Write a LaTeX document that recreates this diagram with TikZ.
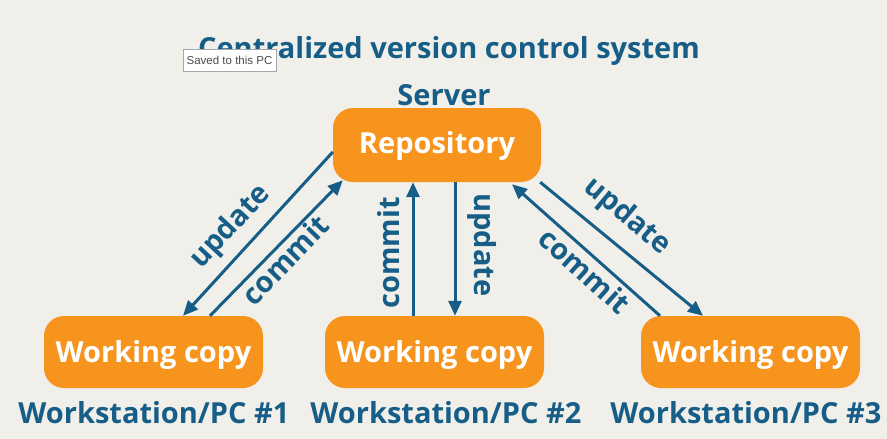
\documentclass[tikz,border=0pt]{standalone}
\usepackage{fontspec}
\setmainfont{Open Sans}
\newfontfamily\tipfont{Liberation Sans}
\usetikzlibrary{arrows.meta}
\definecolor{bgc}{RGB}{241,239,233}
\definecolor{orng}{RGB}{247,148,30}
\definecolor{blu}{RGB}{22,94,135}
\tikzset{
  box/.style={fill=orng, rounded corners=20pt, text=white, font=\bfseries\fontsize{29}{34}\selectfont, inner sep=0pt, text height=20pt, text depth=0pt},
  lbl/.style={text=blu, font=\bfseries\fontsize{29}{34}\selectfont, inner sep=0pt},
  conn/.style={draw=blu, line width=3pt, -{Triangle[length=15pt,width=13pt]}},
}
\begin{document}
\begin{tikzpicture}[x=1pt,y=-1pt]
\fill[bgc] (0,0) rectangle (887,439);
\useasboundingbox (0,0) rectangle (887,439);
\node[lbl, anchor=base] (title) at (449,58) {Centralized version control system};
\node[lbl, anchor=base] (server) at (444,105) {Server};
\node[box, minimum width=208pt, minimum height=74pt, text depth=4pt] (repo) at (437,145) {Repository};
\node[box, minimum width=219pt, minimum height=72pt] (wc1) at (153.5,352) {Working copy};
\node[box, minimum width=219pt, minimum height=72pt] (wc2) at (434.5,352) {Working copy};
\node[box, minimum width=219pt, minimum height=72pt] (wc3) at (750.5,352) {Working copy};
\node[lbl, anchor=base] (ws1) at (154,423) {Workstation/PC \#1};
\node[lbl, anchor=base] (ws2) at (446,423) {Workstation/PC \#2};
\node[lbl, anchor=base] (ws3) at (746,423) {Workstation/PC \#3};
% connectors
\draw[conn] ([yshift=-7pt]repo.west) -- ([xshift=29.5pt]wc1.north);
\draw[conn] ([xshift=56.5pt]wc1.north) -- ([xshift=10pt,yshift=2pt]repo.south west);
\draw[conn] ([xshift=-21.5pt]wc2.north) -- ([xshift=-24pt]repo.south);
\draw[conn] ([xshift=18pt]repo.south) -- ([xshift=20.5pt]wc2.north);
\draw[conn] ([xshift=-1pt]repo.south east) -- ([xshift=-47.5pt]wc3.north);
\draw[conn] ([xshift=-90.5pt]wc3.north) -- ([xshift=75pt,yshift=-2pt]repo.south);
% labels
\node[lbl, rotate=47] (l1) at (231,227) {update};
\node[lbl, rotate=46] (l2) at (285,260) {commit};
\node[lbl, rotate=90] (l3) at (389,253) {commit};
\node[lbl, rotate=-90] (l4) at (482,245) {update};
\node[lbl, rotate=-40] (l5) at (627,217) {update};
\node[lbl, rotate=-42] (l6) at (585,271) {commit};
% tooltip
\node[draw=black!35, fill=white, minimum width=93pt, minimum height=22pt, inner sep=0pt, font=\tipfont\fontsize{11.5}{13}\selectfont, text=black!70] (tip) at (229.5,60) {Saved to this PC};
\end{tikzpicture}
\end{document}
